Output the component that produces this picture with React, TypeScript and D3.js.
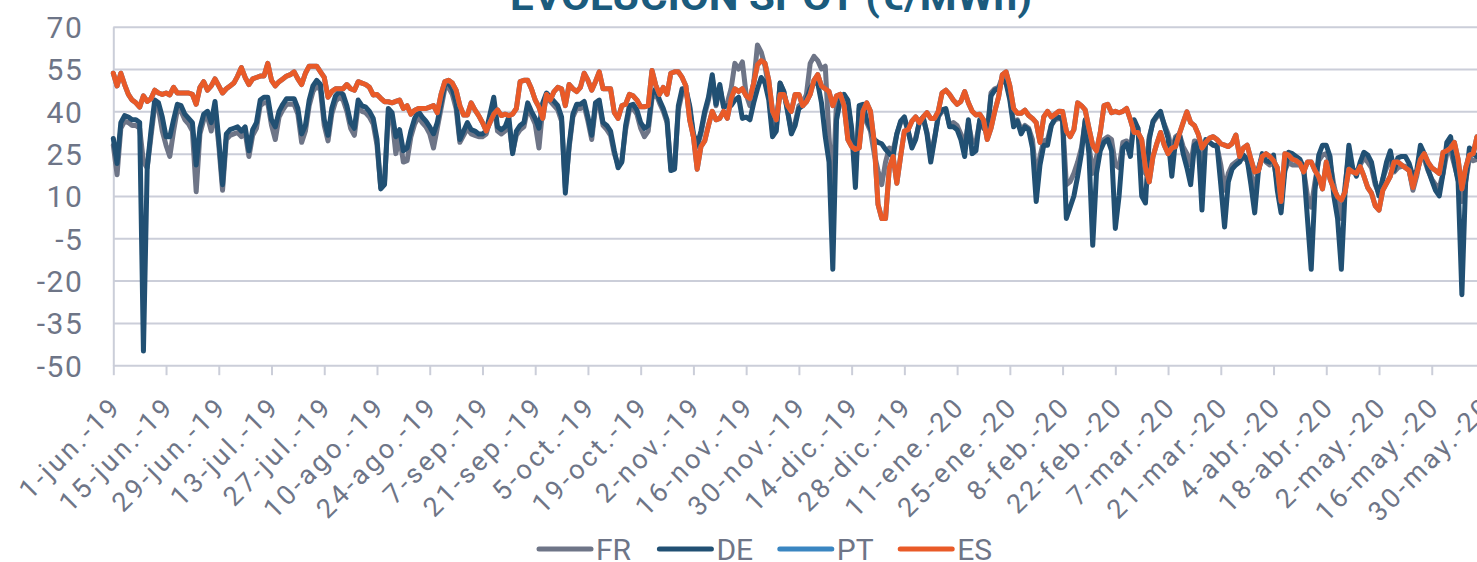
import { useEffect, useRef } from "react";
import * as d3 from "d3";

const WIDTH = 1477;
const HEIGHT = 562;
const PLOT = { left: 113.3, top: 26.7, bottom: 365.2 };
const PX_PER_DAY = 3.767;
const FONT = "Roboto, 'Noto Sans', sans-serif";
const TEXT_COLOR = "#6e7587";
const GRID_COLOR = "#cbced9";

// daily series, first value = 1-jun-2019
const START_DATE = new Date(Date.UTC(2019, 5, 1));
const SERIES_NAMES = ["FR", "DE", "PT", "ES"];
const SERIES_COLORS = ["#6e7587", "#215073", "#3a86c1", "#e95a28"];
const Y_TICKS = [70, 55, 40, 25, 10, -5, -20, -35, -50];
const X_TICK_LABELS = [
  "1-jun.-19", "15-jun.-19", "29-jun.-19", "13-jul.-19", "27-jul.-19", "10-ago.-19",
  "24-ago.-19", "7-sep.-19", "21-sep.-19", "5-oct.-19", "19-oct.-19", "2-nov.-19",
  "16-nov.-19", "30-nov.-19", "14-dic.-19", "28-dic.-19", "11-ene.-20", "25-ene.-20",
  "8-feb.-20", "22-feb.-20", "7-mar.-20", "21-mar.-20", "4-abr.-20", "18-abr.-20",
  "2-may.-20", "16-may.-20", "30-may.-20",
];

const frValues = [
  28, 17.5, 34, 36.5, 36, 35, 35,
  34, 22, 20, 31, 42, 41, 33,
  28, 24, 33, 40.5, 40, 37, 35.5,
  33, 11.5, 32, 37, 38, 33, 41,
  28, 12, 30, 31.5, 32, 32.5, 31,
  32.5, 24, 31.5, 34, 42, 43, 43,
  35, 30, 38, 40.5, 42.5, 42.5, 42.5,
  39, 29, 33, 42, 47, 49, 47.5,
  35, 29.5, 39, 43.5, 45, 44, 40,
  34, 31.5, 42, 40, 39.5, 38, 35.5,
  28, 13, 15, 39, 37.5, 25, 31,
  22, 22.5, 31, 35.5, 38, 36, 34.5,
  32, 27, 34, 41, 48, 48.5, 46,
  41, 29, 31.5, 34, 32, 31.5, 31,
  31, 32, 37, 43, 33, 32, 33,
  36, 25.5, 31.5, 33.5, 34.5, 41, 38.5,
  35.5, 27, 41, 45, 43.5, 42, 40.5,
  36.5, 13, 27, 38, 41, 41, 42,
  36.5, 30, 41.5, 42.5, 35, 33.5, 31.5,
  25, 21, 22.5, 33.5, 40.5, 41, 39,
  34, 31, 33, 44.5, 46.5, 43, 40,
  36, 20, 20.5, 40.5, 46.5, 47, 41.5,
  31, 27.5, 32, 39, 44, 52, 42,
  48.5, 42, 43, 48, 57, 55, 57.5,
  46, 42, 50, 63.5, 61, 56, 48,
  33, 34, 50, 47, 40, 33, 36,
  42, 43, 46, 57, 59.5, 58, 55,
  56, 31, 12, 44, 46, 45.5, 43,
  33, 18, 41, 42, 36, 33, 25,
  19, 14, 22, 27, 26, 32, 36,
  37, 33, 28, 30.5, 36, 37.5, 32.5,
  24, 30.5, 38, 40, 40.5, 35, 36,
  35, 32, 28, 36, 29, 29, 36.5,
  34, 33, 46.5, 48, 48.5, 52, 50.5,
  45, 36, 37, 33.5, 35, 34, 30,
  16, 24, 29.5, 30, 35, 37, 37.5,
  37, 14, 15, 18, 22, 27, 36.5,
  28, 18, 24, 28, 30, 31, 30,
  21, 20, 29, 29.5, 27, 36, 34,
  20, 18, 31, 36, 38, 39, 35.5,
  32, 26, 31, 32, 27.5, 25, 21,
  29.5, 29, 18, 29.5, 29, 28, 27.5,
  21, 12, 18, 21, 22, 23, 23.5,
  22.5, 18, 12, 20, 24, 22, 21,
  22, 15, 10, 19, 22, 21, 21,
  21, 19, 10, 6, 15, 22.5, 24.5,
  25, 22, 14, 8, 2, 14, 25,
  19.5, 18, 21, 23.5, 22, 20, 14,
  11, 16, 20, 22.5, 18.5, 20, 20.5,
  20.5, 19, 12, 17, 24, 23, 19,
  16, 14, 13, 18, 25, 26, 21,
  16, 8, 15, 23.5, 22.5, 23, 24,
];

const deValues = [
  30.4, 21.5, 36, 38.5, 38, 37, 37,
  36, -45, 20, 33, 44, 43, 38,
  31, 31, 37, 42.5, 42, 39, 37.5,
  36, 21, 34, 39, 40, 36, 43.5,
  30, 14, 32, 33.5, 34, 34.5, 33,
  34.5, 26, 33.5, 36, 44, 45, 45,
  37, 34.5, 40, 42.5, 44.5, 44.5, 44.5,
  41, 32, 35, 44, 49, 51, 49.5,
  37, 31.5, 41, 45.5, 47, 46, 42,
  36, 34, 44, 42, 41.5, 40, 37.5,
  30, 12.5, 14, 41, 39.5, 31, 33.5,
  26, 27, 33, 37.5, 40, 38, 36.5,
  34.5, 32, 36, 43, 49.5, 50, 48,
  43, 30, 33, 36, 33.5, 33, 32,
  32, 33, 39, 45, 34.5, 33.5, 34.5,
  38, 25, 33, 35, 36, 43, 40,
  37.5, 34, 43, 46.5, 45, 43.5, 42,
  38, 11, 28, 39, 42.5, 42.5, 43.5,
  38, 31.5, 43, 44, 36, 35, 33,
  26, 20, 22, 35, 42, 42.5, 40.5,
  36, 34, 35, 46, 48, 44, 41,
  37, 19, 19.5, 42, 48, 48, 42,
  32, 28, 33, 40, 45, 53, 42.5,
  49.5, 41.5, 42, 42, 44, 45, 37.5,
  38, 37, 43, 48, 52, 50, 44,
  31, 33, 50, 47, 40, 32, 35,
  41, 42, 44, 48, 50, 50, 43,
  31, 22, -16, 37, 44, 46, 44,
  34, 13, 42, 42.5, 37, 34, 30,
  29, 28.5, 26.5, 25, 24, 32, 36.5,
  38, 33, 27, 30, 36.5, 38, 32,
  22, 30, 38.5, 40.5, 41, 34.5, 34.5,
  33.5, 30, 24, 37, 25, 26, 37,
  34.5, 32, 45.5, 47.5, 48, 51, 50,
  44, 34.5, 36.5, 32, 34.5, 33.5, 27,
  8, 21, 28, 28, 35, 37.5, 38,
  37, 2, 6, 10, 17, 25, 37,
  25, -7.5, 18, 26, 29, 30, 26,
  -1.5, 10, 27, 28.5, 24, 37, 34,
  10, 7.5, 30, 36.5, 38.5, 40, 35,
  30.5, 17, 30, 32, 25, 20, 14,
  28, 29, 5, 30, 29, 28, 28,
  14, -1, 15, 19.5, 21, 22, 24.5,
  23, 14, 4, 19, 25, 22.5, 22,
  24.5, 12, 4, 19, 25.5, 25, 24,
  23, 20, 2, -16, 12, 24.5, 28,
  28, 24, 10, 2, -16, 12, 28,
  20, 17, 22, 25.5, 24.5, 22, 15,
  10, 16, 22, 26, 19, 23.5, 24,
  24, 21.5, 17, 19, 28, 25, 19.5,
  15.6, 12, 10, 18, 29, 31, 22,
  15, -25, 15, 27, 25, 24, 26,
];

// PT runs underneath ES for the whole period
const ptValues = [
  53.5, 49, 53.5, 49.5, 46, 44, 43,
  41.5, 45.5, 43.5, 44.5, 47.5, 46.5, 46,
  46.5, 45.8, 48.5, 46.5, 46.5, 46.5, 46.5,
  46, 42.5, 48.5, 50.5, 47.5, 49, 51.5,
  49, 46.5, 48, 49, 50, 52.5, 55.5,
  52, 49.5, 51.5, 52, 52.5, 52.5, 57,
  51, 49, 50.5, 51.5, 52.5, 53, 54,
  51.5, 49.5, 53.5, 56, 56, 56, 54,
  52, 45, 47, 48, 48, 48, 49.5,
  48, 47.5, 50.5, 50, 49.5, 48.5, 45.8,
  46, 44.6, 43.4, 43.4, 43, 43.5, 44,
  41, 42, 39, 40.4, 41, 41, 41,
  41.5, 42, 39.5, 46, 50.5, 51, 50,
  47.5, 42, 38.7, 38.7, 43, 40.5, 38.5,
  36, 33, 36, 39, 40.5, 38.5, 39,
  38.5, 39, 41, 50.5, 51, 51, 48,
  44, 41.5, 37.5, 46, 44, 47, 48.5,
  48, 42, 49.5, 48, 47, 48.5, 53.5,
  51, 47.5, 50.5, 54, 48, 48, 48,
  39.5, 37.5, 42, 42.5, 46, 45.5, 44,
  41.6, 41.6, 42, 54.5, 49.3, 46, 48.5,
  46, 53.5, 54, 54, 52, 49, 37,
  31, 19.5, 27.5, 29.5, 35, 40, 37,
  37.5, 40, 37.5, 44.5, 48, 47, 48,
  45.5, 44.5, 50, 56.5, 58, 57, 51,
  40, 37, 46, 46, 42, 40, 46,
  46, 42, 43.4, 46, 51, 53, 49,
  48, 47, 42, 45.5, 46, 42, 30,
  27.5, 26.5, 27, 40, 43, 40, 29,
  7, 2, 2, 20, 24, 14.5, 24,
  33, 33.5, 36.5, 38, 36, 38, 39.5,
  37.5, 37.5, 40, 46.5, 47.5, 46, 44,
  42.5, 43.5, 47, 43, 40, 38.7, 39,
  37, 30, 34, 40, 45, 53, 54,
  49, 41, 39.3, 39.3, 40.4, 38.5, 37.5,
  36, 29, 38, 40, 38, 39, 40,
  39.9, 33, 31, 33.5, 43, 42, 40.5,
  34, 28, 26, 32.5, 42, 42.5, 39.5,
  40, 39.5, 40, 41, 37, 32.5, 32.5,
  30, 20, 15, 24, 28.5, 32.5, 28,
  25, 27, 27.5, 32, 36, 39.8, 36,
  35, 32, 27, 29, 30.5, 31, 30,
  28.5, 28, 27.5, 28.6, 31.6, 24, 27,
  28, 23, 18.5, 19, 24, 25, 24,
  22.5, 20, 8, 25, 24.5, 23, 22.5,
  21.5, 18.5, 22, 22, 19, 16.8, 12.5,
  22, 16, 12.5, 9.7, 8.5, 11.5, 19.5,
  18.5, 18, 20.4, 17, 13, 11, 6.5,
  5, 12, 14.5, 17, 22, 22, 21,
  20, 19, 13, 18, 23, 25, 22,
  20, 19, 18, 25.5, 26, 27, 29,
  23, 12.5, 20, 24.5, 25, 31, 30,
];

const esValues = [
  53.5, 49, 53.5, 49.5, 46, 44, 43,
  41.5, 45.5, 43.5, 44.5, 47.5, 46.5, 46,
  46.5, 45.8, 48.5, 46.5, 46.5, 46.5, 46.5,
  46, 42.5, 48.5, 50.5, 47.5, 49, 51.5,
  49, 46.5, 48, 49, 50, 52.5, 55.5,
  52, 49.5, 51.5, 52, 52.5, 52.5, 57,
  51, 49, 50.5, 51.5, 52.5, 53, 54,
  51.5, 49.5, 53.5, 56, 56, 56, 54,
  52, 45, 47, 48, 48, 48, 49.5,
  48, 47.5, 50.5, 50, 49.5, 48.5, 45.8,
  46, 44.6, 43.4, 43.4, 43, 43.5, 44,
  41, 42, 39, 40.4, 41, 41, 41,
  41.5, 42, 39.5, 46, 50.5, 51, 50,
  47.5, 42, 38.7, 38.7, 43, 40.5, 38.5,
  36, 33, 36, 39, 40.5, 38.5, 39,
  38.5, 39, 41, 50.5, 51, 51, 48,
  44, 41.5, 37.5, 46, 44, 47, 48.5,
  48, 42, 49.5, 48, 47, 48.5, 53.5,
  51, 47.5, 50.5, 54, 48, 48, 48,
  39.5, 37.5, 42, 42.5, 46, 45.5, 44,
  41.6, 41.6, 42, 54.5, 49.3, 46, 48.5,
  46, 53.5, 54, 54, 52, 49, 37,
  31, 19.5, 27.5, 29.5, 35, 40, 37,
  37.5, 40, 37.5, 44.5, 48, 47, 48,
  45.5, 44.5, 50, 56.5, 58, 57, 51,
  40, 37, 46, 46, 42, 40, 46,
  46, 42, 43.4, 46, 51, 53, 49,
  48, 47, 42, 45.5, 46, 42, 30,
  27.5, 26.5, 27, 40, 43, 40, 29,
  7, 2, 2, 20, 24, 14.5, 24,
  33, 33.5, 36.5, 38, 36, 38, 39.5,
  37.5, 37.5, 40, 46.5, 47.5, 46, 44,
  42.5, 43.5, 47, 43, 40, 38.7, 39,
  37, 30, 34, 40, 45, 53, 54,
  49, 41, 39.3, 39.3, 40.4, 38.5, 37.5,
  36, 29, 38, 40, 38, 39, 40,
  39.9, 33, 31, 33.5, 43, 42, 40.5,
  34, 28, 26, 32.5, 42, 42.5, 39.5,
  40, 39.5, 40, 41, 37, 32.5, 32.5,
  30, 20, 15, 24, 28.5, 32.5, 28,
  25, 27, 27.5, 32, 36, 39.8, 36,
  35, 32, 27, 29, 30.5, 31, 30,
  28.5, 28, 27.5, 28.6, 31.6, 24, 27,
  28, 23, 18.5, 19, 24, 25, 24,
  22.5, 20, 8, 25, 24.5, 23, 22.5,
  21.5, 18.5, 22, 22, 19, 16.8, 12.5,
  22, 16, 12.5, 9.7, 8.5, 11.5, 19.5,
  18.5, 18, 20.4, 17, 13, 11, 6.5,
  5, 12, 14.5, 17, 22, 22, 21,
  20, 19, 13, 18, 23, 25, 22,
  20, 19, 18, 25.5, 26, 27, 29,
  23, 12.5, 20, 24.5, 25, 31, 30,
];

const SERIES_VALUES = [frValues, deValues, ptValues, esValues];

export default function App() {
  const svgRef = useRef<SVGSVGElement | null>(null);

  useEffect(() => {
    if (!svgRef.current) return;
    const svg = d3.select(svgRef.current);
    svg.selectAll("*").remove();

    const lastTick = d3.utcDay.offset(START_DATE, 14 * (X_TICK_LABELS.length - 1));
    const x = d3
      .scaleUtc()
      .domain([START_DATE, lastTick])
      .range([PLOT.left, PLOT.left + 14 * (X_TICK_LABELS.length - 1) * PX_PER_DAY]);

    const y = d3.scaleLinear().domain([-50, 70]).range([PLOT.bottom, PLOT.top]);

    // title, cut by the top edge
    svg
      .append("text")
      .attr("x", 771)
      .attr("y", 10)
      .attr("text-anchor", "middle")
      .attr("fill", "#1b5b7d")
      .attr("font-family", FONT)
      .attr("font-weight", 700)
      .attr("font-size", 38)
      .attr("textLength", 522)
      .attr("lengthAdjust", "spacingAndGlyphs")
      .text("EVOLUCIÓN SPOT (€/MWh)");

    // horizontal gridlines
    svg
      .append("g")
      .attr("transform", `translate(${PLOT.left},0)`)
      .call(d3.axisLeft(y).tickValues(Y_TICKS).tickSize(-(WIDTH - PLOT.left + 20)).tickFormat(() => ""))
      .call((g: any) => {
        g.select(".domain").remove();
        g.selectAll("line").attr("stroke", GRID_COLOR).attr("stroke-width", 2);
      });

    // y labels
    svg
      .append("g")
      .attr("transform", `translate(${PLOT.left},0)`)
      .call(
        d3
          .axisLeft(y)
          .tickValues(Y_TICKS)
          .tickSize(0)
          .tickPadding(30)
          .tickFormat((v: number) => String(v)),
      )
      .call((g: any) => {
        g.select(".domain").attr("stroke", GRID_COLOR).attr("stroke-width", 2);
        g.selectAll("text")
          .attr("fill", TEXT_COLOR)
          .attr("font-family", FONT)
          .attr("font-size", 30)
          .attr("letter-spacing", 1.5)
          .attr("dy", "0.36em");
      });

    // x axis
    const tickDates = X_TICK_LABELS.map((_, i) => d3.utcDay.offset(START_DATE, 14 * i));
    svg
      .append("g")
      .attr("transform", `translate(0,${PLOT.bottom})`)
      .call(
        d3
          .axisBottom(x)
          .tickValues(tickDates)
          .tickSize(10)
          .tickFormat((_: any, i: number) => X_TICK_LABELS[i]),
      )
      .call((g: any) => {
        g.select(".domain").remove();
        g.selectAll("line").attr("stroke", GRID_COLOR).attr("stroke-width", 2);
        g.selectAll("text")
          .attr("fill", TEXT_COLOR)
          .attr("font-family", FONT)
          .attr("font-size", 27)
          .attr("letter-spacing", 3)
          .attr("text-anchor", "end")
          .attr("x", 0)
          .attr("y", 0)
          .attr("dy", 0)
          .attr("transform", "translate(9,43) rotate(-45)");
      });

    // series lines
    const line = d3
      .line<number>()
      .x((_, i) => x(d3.utcDay.offset(START_DATE, i)))
      .y((v) => y(v));

    SERIES_VALUES.forEach((values, k) => {
      svg
        .append("path")
        .datum(values)
        .attr("fill", "none")
        .attr("stroke", SERIES_COLORS[k])
        .attr("stroke-width", 5)
        .attr("stroke-linejoin", "round")
        .attr("stroke-linecap", "round")
        .attr("d", line);
    });

    // legend
    const legend = svg.append("g").attr("transform", "translate(537,549)");
    SERIES_NAMES.forEach((name, k) => {
      const item = legend.append("g").attr("transform", `translate(${k * 120.4},0)`);
      item
        .append("line")
        .attr("x1", 2)
        .attr("x2", 54)
        .attr("stroke", SERIES_COLORS[k])
        .attr("stroke-width", 5)
        .attr("stroke-linecap", "round");
      item
        .append("text")
        .attr("x", 59)
        .attr("y", 10.5)
        .attr("fill", TEXT_COLOR)
        .attr("font-family", FONT)
        .attr("font-size", 30)
        .text(name);
    });
  }, []);

  return (
    <svg
      ref={svgRef}
      width={WIDTH}
      height={HEIGHT}
      style={{ position: "absolute", left: 0, top: 0, background: "#fff" }}
    />
  );
}
